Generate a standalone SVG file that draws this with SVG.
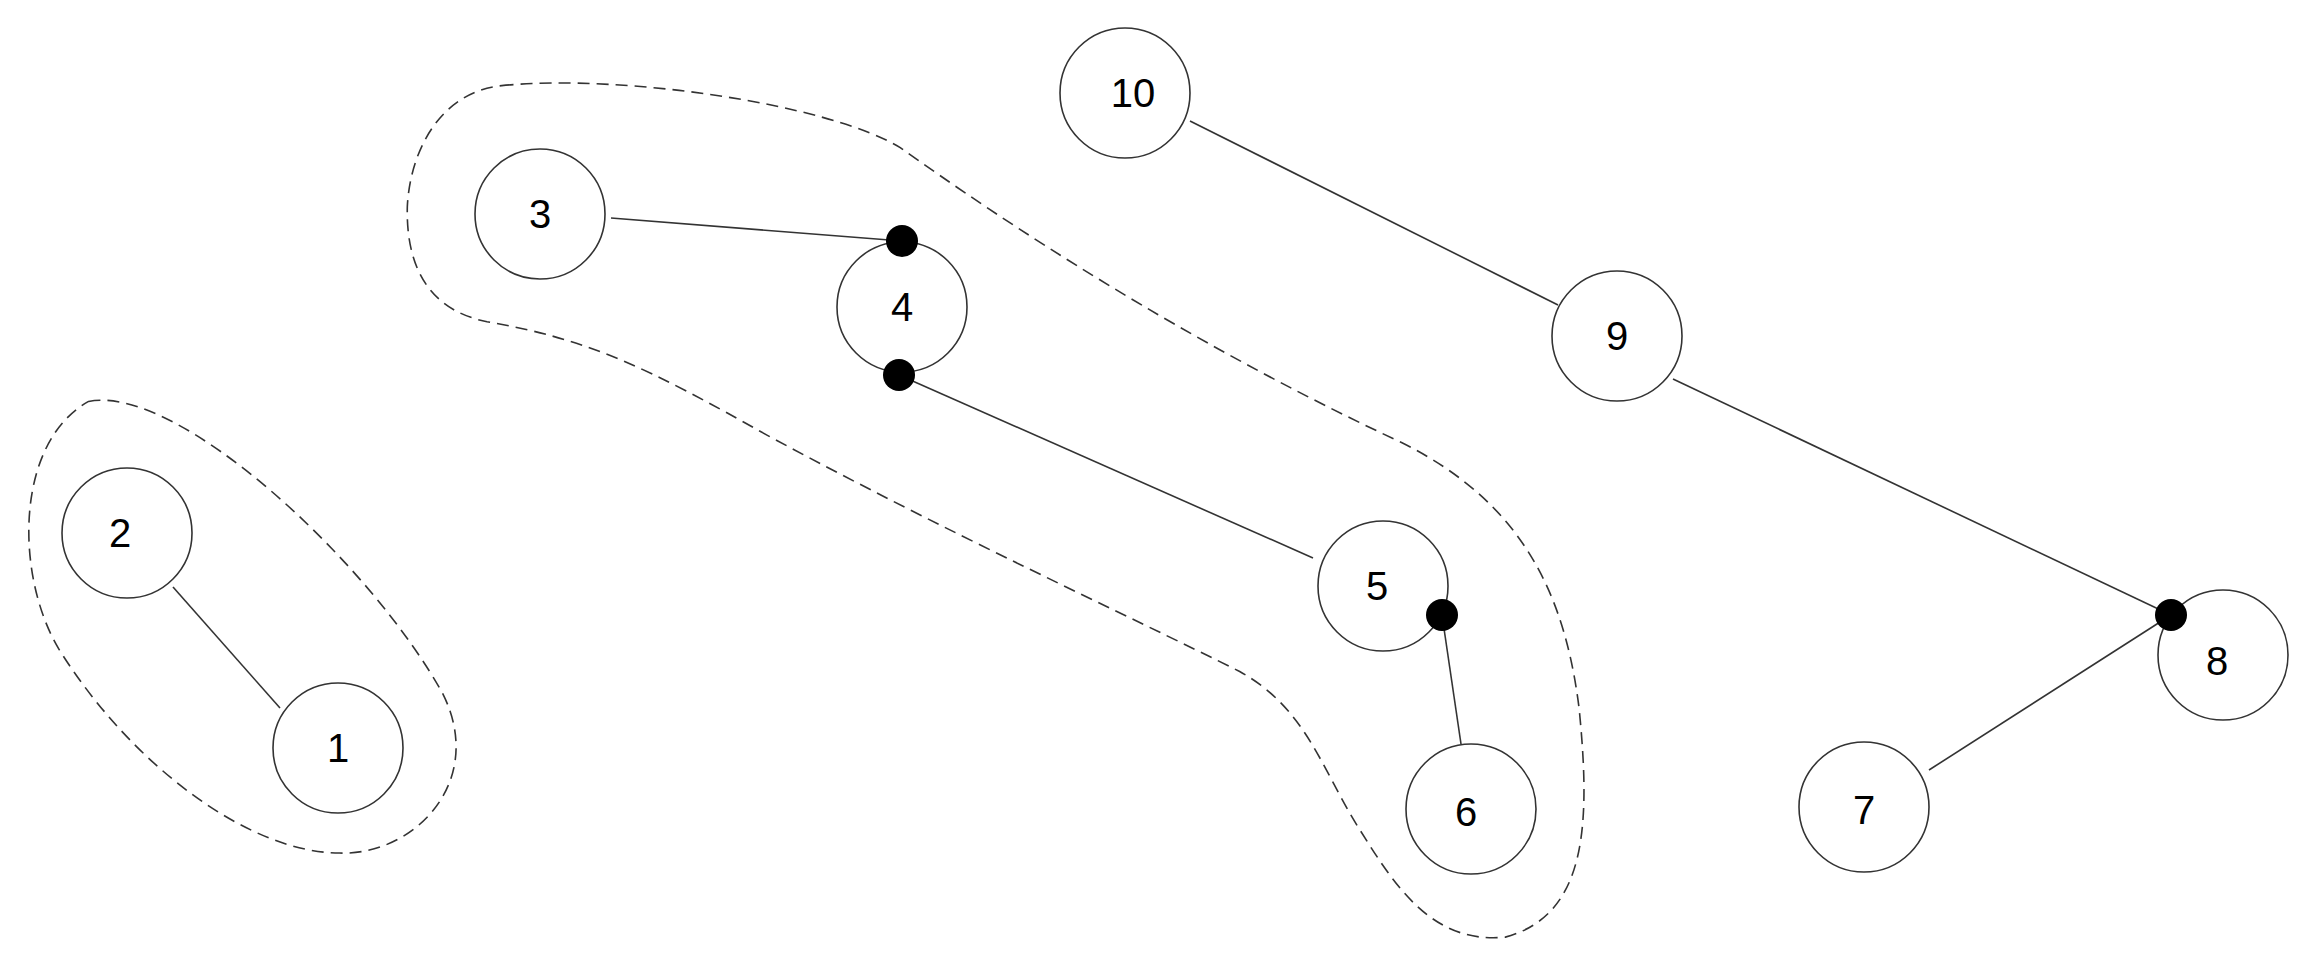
<svg xmlns="http://www.w3.org/2000/svg" width="2314" height="971" viewBox="0 0 2314 971">
<style>
.n circle{fill:#fff;stroke:#333;stroke-width:1.6}
.n text{font-family:"Liberation Sans",Arial,sans-serif;font-size:40px;text-anchor:middle;dominant-baseline:central;fill:#000}
.e line{stroke:#333;stroke-width:1.6}
.d{fill:#000}
.b{fill:none;stroke:#333;stroke-width:1.6;stroke-dasharray:12 7}
</style>
<rect width="2314" height="971" fill="#fff"/>
<g id="blobs" transform="scale(1.4758)">
<path class="b" vector-effect="non-scaling-stroke" d="M 60,272 C 120,260 250,380 300,470 C 330,530 280,580 230,578 C 170,578 90,520 40,440 C 10,390 10,300 60,272 Z"/>
<path class="b" vector-effect="non-scaling-stroke" d="M 340,58 C 420,50 560,70 610,100 C 680,150 800,230 950,300 C 1030,340 1060,400 1070,480 C 1078,560 1075,620 1020,635 C 970,640 945,600 920,560 C 895,520 885,480 840,455 C 760,415 640,360 520,295 C 440,250 400,230 330,218 C 290,210 275,180 276,140 C 278,100 300,62 340,58 Z"/>
</g>
<g id="edges" class="e">
<line x1="611" y1="218" x2="902" y2="241"/>
<line x1="899" y1="375" x2="1313" y2="558"/>
<line x1="1442" y1="615" x2="1461" y2="744"/>
<line x1="173" y1="587" x2="280" y2="708"/>
<line x1="1190" y1="121" x2="1558" y2="305"/>
<line x1="1673" y1="379" x2="2171" y2="615"/>
<line x1="1929" y1="770" x2="2171" y2="615"/>
</g>
<g id="n1" class="n"><circle cx="338" cy="748" r="65"/><text x="338" y="748">1</text></g>
<g id="n2" class="n"><circle cx="127" cy="533" r="65"/><text x="120" y="533">2</text></g>
<g id="n3" class="n"><circle cx="540" cy="214" r="65"/><text x="540" y="214">3</text></g>
<g id="n4" class="n"><circle cx="902" cy="307" r="65"/><text x="902" y="307">4</text></g>
<g id="n5" class="n"><circle cx="1383" cy="586" r="65"/><text x="1377" y="586">5</text></g>
<g id="n6" class="n"><circle cx="1471" cy="809" r="65"/><text x="1466" y="812">6</text></g>
<g id="n7" class="n"><circle cx="1864" cy="807" r="65"/><text x="1864" y="810">7</text></g>
<g id="n8" class="n"><circle cx="2223" cy="655" r="65"/><text x="2217" y="661">8</text></g>
<g id="n9" class="n"><circle cx="1617" cy="336" r="65"/><text x="1617" y="336">9</text></g>
<g id="n10" class="n"><circle cx="1125" cy="93" r="65"/><text x="1133" y="93">10</text></g>
<g id="ports">
<circle class="d" cx="902" cy="241" r="16"/>
<circle class="d" cx="899" cy="375" r="16"/>
<circle class="d" cx="1442" cy="615" r="16"/>
<circle class="d" cx="2171" cy="615" r="16"/>
</g>
</svg>
